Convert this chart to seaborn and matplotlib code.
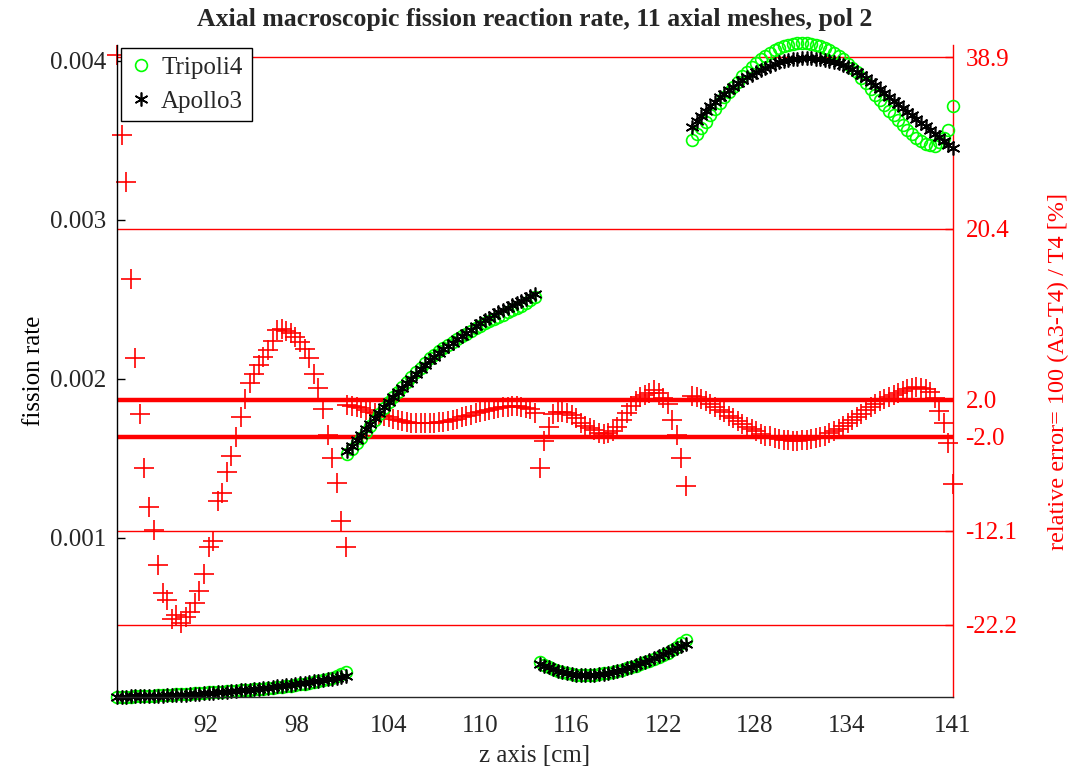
import numpy as np
import pandas as pd
import matplotlib
matplotlib.use("Agg")
import matplotlib.pyplot as plt
import seaborn as sns

# ---------------- data ----------------
z_mesh1 = [86.2, 86.5, 86.8, 87.1, 87.4, 87.7, 88.0, 88.3, 88.6, 88.9,
           89.2, 89.5, 89.8, 90.1, 90.4, 90.7, 91.0, 91.3, 91.6, 91.9,
           92.2, 92.5, 92.8, 93.1, 93.4, 93.7, 94.0, 94.3, 94.6, 94.9,
           95.2, 95.5, 95.8, 96.1, 96.4, 96.7, 97.0, 97.3, 97.6, 97.9,
           98.2, 98.5, 98.8, 99.1, 99.4, 99.7, 100.0, 100.3, 100.6, 100.9,
           101.2]
a3_mesh1 = [2.0e-6, 2.4e-6, 2.9e-6, 3.4e-6, 4.0e-6, 4.7e-6, 5.4e-6, 6.2e-6, 7.1e-6, 8.0e-6,
            9.0e-6, 10.1e-6, 11.3e-6, 12.6e-6, 14.0e-6, 15.5e-6, 17.1e-6, 18.8e-6, 20.6e-6, 22.5e-6,
            24.5e-6, 26.6e-6, 28.8e-6, 31.1e-6, 33.5e-6, 36.0e-6, 38.6e-6, 41.3e-6, 44.1e-6, 47.0e-6,
            50.0e-6, 53.1e-6, 56.3e-6, 59.6e-6, 63.0e-6, 66.5e-6, 70.1e-6, 73.8e-6, 77.6e-6, 81.5e-6,
            85.5e-6, 89.6e-6, 93.8e-6, 98.1e-6, 102.5e-6, 107.0e-6, 111.6e-6, 116.3e-6, 121.5e-6, 127.5e-6,
            134.0e-6]
t4_mesh1 = [1.44e-6, 1.84e-6, 2.31e-6, 2.96e-6, 3.76e-6, 4.68e-6, 5.70e-6, 6.85e-6, 8.07e-6, 9.50e-6,
            11.08e-6, 12.56e-6, 14.41e-6, 15.99e-6, 17.95e-6, 19.72e-6, 21.62e-6, 23.47e-6, 25.31e-6, 27.04e-6,
            28.42e-6, 30.65e-6, 31.61e-6, 33.80e-6, 35.56e-6, 37.54e-6, 39.39e-6, 41.22e-6, 43.19e-6, 45.28e-6,
            47.71e-6, 50.24e-6, 52.81e-6, 55.49e-6, 58.17e-6, 60.73e-6, 63.96e-6, 67.46e-6, 71.06e-6, 74.91e-6,
            79.02e-6, 83.35e-6, 88.08e-6, 93.61e-6, 99.23e-6, 105.94e-6, 113.65e-6, 121.53e-6, 130.65e-6, 143.26e-6,
            155.63e-6]
err_mesh1 = [39.1, 30.5, 25.5, 15.0, 6.5, 0.5, -5.3, -9.5, -12.0, -15.8,
             -18.8, -19.6, -21.6, -21.2, -22.0, -21.4, -20.9, -19.9, -18.6, -16.8,
             -13.8, -13.2, -8.9, -8.0, -5.8, -4.1, -2.0, 0.2, 2.1, 3.8,
             4.8, 5.7, 6.6, 7.4, 8.3, 9.5, 9.6, 9.4, 9.2, 8.8,
             8.2, 7.5, 6.5, 4.8, 3.3, 1.0, -1.8, -4.3, -7.0, -11.0,
             -13.9]

z_mesh2 = [101.3, 101.6, 101.9, 102.2, 102.5, 102.8, 103.1, 103.4, 103.7, 104.0,
           104.3, 104.6, 104.9, 105.2, 105.5, 105.8, 106.1, 106.4, 106.7, 107.0,
           107.3, 107.6, 107.9, 108.2, 108.5, 108.8, 109.1, 109.4, 109.7, 110.0,
           110.3, 110.6, 110.9, 111.2, 111.5, 111.8, 112.1, 112.4, 112.7, 113.0,
           113.3, 113.6]
a3_mesh2 = [1.546e-3, 1.580e-3, 1.614e-3, 1.648e-3, 1.683e-3, 1.718e-3, 1.753e-3, 1.787e-3, 1.821e-3, 1.855e-3,
            1.887e-3, 1.916e-3, 1.945e-3, 1.973e-3, 2.002e-3, 2.031e-3, 2.060e-3, 2.089e-3, 2.118e-3, 2.141e-3,
            2.164e-3, 2.187e-3, 2.208e-3, 2.229e-3, 2.250e-3, 2.270e-3, 2.290e-3, 2.310e-3, 2.330e-3, 2.350e-3,
            2.368e-3, 2.386e-3, 2.403e-3, 2.418e-3, 2.433e-3, 2.448e-3, 2.462e-3, 2.476e-3, 2.490e-3, 2.504e-3,
            2.519e-3, 2.533e-3]
t4_mesh2 = [1.525e-3, 1.560e-3, 1.595e-3, 1.630e-3, 1.668e-3, 1.706e-3, 1.743e-3, 1.780e-3, 1.816e-3, 1.853e-3,
            1.888e-3, 1.919e-3, 1.950e-3, 1.980e-3, 2.011e-3, 2.041e-3, 2.071e-3, 2.100e-3, 2.129e-3, 2.151e-3,
            2.173e-3, 2.195e-3, 2.214e-3, 2.233e-3, 2.251e-3, 2.268e-3, 2.284e-3, 2.301e-3, 2.318e-3, 2.334e-3,
            2.349e-3, 2.364e-3, 2.378e-3, 2.391e-3, 2.404e-3, 2.418e-3, 2.431e-3, 2.445e-3, 2.459e-3, 2.476e-3,
            2.494e-3, 2.518e-3]
err_mesh2 = [1.4, 1.3, 1.2, 1.1, 0.9, 0.7, 0.55, 0.4, 0.25, 0.1,
             -0.05, -0.15, -0.25, -0.35, -0.45, -0.5, -0.52, -0.52, -0.5, -0.47,
             -0.42, -0.36, -0.28, -0.18, -0.05, 0.1, 0.25, 0.4, 0.55, 0.7,
             0.82, 0.94, 1.04, 1.12, 1.2, 1.25, 1.28, 1.28, 1.25, 1.15,
             1.0, 0.6]

z_mesh3 = [113.9, 114.2, 114.5, 114.8, 115.1, 115.4, 115.7, 116.0, 116.3, 116.6,
           116.9, 117.2, 117.5, 117.8, 118.1, 118.4, 118.7, 119.0, 119.3, 119.6,
           119.9, 120.2, 120.5, 120.8, 121.1, 121.4, 121.7, 122.0, 122.3, 122.6,
           122.9, 123.2, 123.5]
a3_mesh3 = [0.210e-3, 0.198e-3, 0.186e-3, 0.175e-3, 0.165e-3, 0.157e-3, 0.150e-3, 0.145e-3, 0.141e-3, 0.139e-3,
            0.138e-3, 0.138e-3, 0.139e-3, 0.142e-3, 0.146e-3, 0.151e-3, 0.157e-3, 0.164e-3, 0.172e-3, 0.181e-3,
            0.191e-3, 0.201e-3, 0.212e-3, 0.223e-3, 0.235e-3, 0.247e-3, 0.259e-3, 0.271e-3, 0.283e-3, 0.296e-3,
            0.309e-3, 0.322e-3, 0.335e-3]
t4_mesh3 = [0.2218e-3, 0.2029e-3, 0.1877e-3, 0.1741e-3, 0.1639e-3, 0.1559e-3, 0.1492e-3, 0.1445e-3, 0.1410e-3, 0.1397e-3,
            0.1391e-3, 0.1395e-3, 0.1408e-3, 0.1442e-3, 0.1484e-3, 0.1535e-3, 0.1591e-3, 0.1655e-3, 0.1723e-3, 0.1800e-3,
            0.1885e-3, 0.1973e-3, 0.2071e-3, 0.2176e-3, 0.2288e-3, 0.2397e-3, 0.2522e-3, 0.2652e-3, 0.2788e-3, 0.2966e-3,
            0.3147e-3, 0.3365e-3, 0.3614e-3]
err_mesh3 = [-5.3, -2.4, -0.9, 0.5, 0.7, 0.7, 0.55, 0.35, 0.0, -0.5,
             -0.8, -1.05, -1.3, -1.55, -1.65, -1.62, -1.35, -0.9, -0.2, 0.55,
             1.3, 1.9, 2.35, 2.5, 2.7, 3.05, 2.7, 2.2, 1.5, -0.2,
             -1.8, -4.3, -7.3]

z_mesh4 = [123.9, 124.2, 124.5, 124.8, 125.1, 125.4, 125.7, 126.0, 126.3, 126.6,
           126.9, 127.2, 127.5, 127.8, 128.1, 128.4, 128.7, 129.0, 129.3, 129.6,
           129.9, 130.2, 130.5, 130.8, 131.1, 131.4, 131.7, 132.0, 132.3, 132.6,
           132.9, 133.2, 133.5, 133.8, 134.1, 134.4, 134.7, 135.0, 135.3, 135.6,
           135.9, 136.2, 136.5, 136.8, 137.1, 137.4, 137.7, 138.0, 138.3, 138.6,
           138.9, 139.2, 139.5, 139.8, 140.1, 140.4, 140.7, 141.0]
a3_mesh4 = [3.585e-3, 3.620e-3, 3.652e-3, 3.685e-3, 3.716e-3, 3.744e-3, 3.770e-3, 3.795e-3, 3.818e-3, 3.839e-3,
            3.859e-3, 3.879e-3, 3.897e-3, 3.914e-3, 3.930e-3, 3.945e-3, 3.958e-3, 3.970e-3, 3.981e-3, 3.990e-3,
            3.998e-3, 4.004e-3, 4.009e-3, 4.013e-3, 4.016e-3, 4.017e-3, 4.017e-3, 4.015e-3, 4.012e-3, 4.008e-3,
            4.002e-3, 3.995e-3, 3.986e-3, 3.976e-3, 3.963e-3, 3.949e-3, 3.933e-3, 3.913e-3, 3.892e-3, 3.870e-3,
            3.847e-3, 3.823e-3, 3.798e-3, 3.773e-3, 3.750e-3, 3.727e-3, 3.704e-3, 3.681e-3, 3.658e-3, 3.635e-3,
            3.612e-3, 3.589e-3, 3.566e-3, 3.543e-3, 3.520e-3, 3.497e-3, 3.474e-3, 3.451e-3]
t4_mesh4 = [3.501e-3, 3.540e-3, 3.577e-3, 3.616e-3, 3.657e-3, 3.698e-3, 3.735e-3, 3.771e-3, 3.807e-3, 3.839e-3,
            3.869e-3, 3.904e-3, 3.932e-3, 3.960e-3, 3.986e-3, 4.011e-3, 4.033e-3, 4.049e-3, 4.066e-3, 4.080e-3,
            4.092e-3, 4.101e-3, 4.108e-3, 4.112e-3, 4.114e-3, 4.113e-3, 4.109e-3, 4.102e-3, 4.094e-3, 4.084e-3,
            4.066e-3, 4.050e-3, 4.030e-3, 4.010e-3, 3.981e-3, 3.957e-3, 3.929e-3, 3.895e-3, 3.859e-3, 3.824e-3,
            3.786e-3, 3.754e-3, 3.720e-3, 3.686e-3, 3.657e-3, 3.627e-3, 3.596e-3, 3.567e-3, 3.541e-3, 3.516e-3,
            3.497e-3, 3.479e-3, 3.469e-3, 3.467e-3, 3.492e-3, 3.515e-3, 3.567e-3, 3.715e-3]
err_mesh4 = [2.4, 2.25, 2.1, 1.9, 1.6, 1.25, 0.95, 0.65, 0.3, 0.0,
             -0.25, -0.65, -0.9, -1.15, -1.4, -1.65, -1.85, -1.95, -2.1, -2.2,
             -2.3, -2.37, -2.4, -2.4, -2.38, -2.33, -2.25, -2.12, -2.0, -1.85,
             -1.58, -1.35, -1.1, -0.85, -0.45, -0.2, 0.1, 0.45, 0.85, 1.2,
             1.6, 1.85, 2.1, 2.35, 2.55, 2.75, 3.0, 3.2, 3.3, 3.37,
             3.3, 3.15, 2.8, 2.2, 0.8, -0.5, -2.6, -7.1]

err_levels = [-22.2, -12.1, -2.0, 2.0, 20.4, 38.9]
err_level_labels = ["-22.2", "-12.1", "-2.0", "2.0", "20.4", "38.9"]
x_ticks = [92, 98, 104, 110, 116, 122, 128, 134, 141]
y_ticks = [0.001, 0.002, 0.003, 0.004]
y_tick_labels = ["0.001", "0.002", "0.003", "0.004"]

# ---------------- table ----------------
frames = []
for i, (z, a3, t4, er) in enumerate([(z_mesh1, a3_mesh1, t4_mesh1, err_mesh1),
                                     (z_mesh2, a3_mesh2, t4_mesh2, err_mesh2),
                                     (z_mesh3, a3_mesh3, t4_mesh3, err_mesh3),
                                     (z_mesh4, a3_mesh4, t4_mesh4, err_mesh4)]):
    assert len(z) == len(a3) == len(t4) == len(er), (i, len(z), len(a3), len(t4), len(er))
    frames.append(pd.DataFrame({"z": z, "A3": a3, "T4": t4, "err": er, "mesh": i + 1}))
df = pd.concat(frames, ignore_index=True)

# ---------------- style ----------------
sns.set_theme(style="white")
plt.rcParams["font.family"] = ["Liberation Serif", "DejaVu Serif"]
FS = 18
GREEN = "#00ff00"
RED = "#ff0000"
DARK = "#262626"

W, H = 1078, 773
fig = plt.figure(figsize=(W / 100, H / 100), dpi=100)
fig.patch.set_facecolor("white")
L, R, T, B = 117, 953, 45, 697
ax = fig.add_axes([L / W, 1 - B / H, (R - L) / W, (B - T) / H])
ax2 = ax.twinx()
ax.set_zorder(ax2.get_zorder() + 1)
ax.patch.set_visible(False)
ax2.patch.set_facecolor("white")

# ---- error axis (right) ----
for lev in err_levels:
    lw = 3.2 if abs(lev) == 2.0 else 1.0
    ax2.axhline(lev, color=RED, lw=lw, zorder=1)
sns.lineplot(data=df, x="z", y="err", units="mesh", estimator=None, sort=False,
             ax=ax2, linestyle="", marker="+", markersize=14,
             markeredgewidth=1.2, color=RED, markeredgecolor=RED, legend=False)
for ln in ax2.get_lines():
    if ln.get_marker() == "+":
        ln.set_clip_on(False)
        ln.set_zorder(3)

# ---- fission rate (left) ----
n0 = len(ax.get_lines())
sns.lineplot(data=df, x="z", y="T4", units="mesh", estimator=None, sort=False,
             ax=ax, linestyle="", marker="o", markersize=8.5,
             markerfacecolor="none", markeredgecolor=GREEN, markeredgewidth=1.2,
             color=GREEN, legend=False)
n1 = len(ax.get_lines())
sns.lineplot(data=df, x="z", y="A3", units="mesh", estimator=None, sort=False,
             ax=ax, linestyle="", marker=(6, 2, 0), markersize=10,
             markeredgecolor="black", markeredgewidth=1.2,
             color="black", legend=False)
lines = ax.get_lines()
for ln in lines:
    ln.set_clip_on(False)
h_t4 = lines[n0]
h_a3 = lines[n1]

# ---- axes limits / ticks ----
ax.set_xlim(86.2, 141)
ax.set_ylim(0, 0.0041)
ax2.set_ylim(-30.0, 40.2)

ax.set_xticks(x_ticks)
ax.set_xticklabels([str(t) for t in x_ticks])
ax.set_yticks(y_ticks)
ax.set_yticklabels(y_tick_labels)
ax2.set_yticks(err_levels)
ax2.set_yticklabels(err_level_labels)

ax.tick_params(axis="x", direction="in", length=7, width=1, colors=DARK,
               labelsize=FS, pad=13)
ax.tick_params(axis="y", direction="in", length=6, width=1, colors="black",
               labelcolor=DARK, labelsize=FS, pad=8)
ax2.tick_params(axis="y", direction="in", length=6, width=1, colors=RED,
                labelsize=FS, pad=9)

for s in ["top", "right"]:
    ax.spines[s].set_visible(False)
for s in ["top", "left", "bottom"]:
    ax2.spines[s].set_visible(False)
ax.spines["left"].set_color("black")
ax.spines["bottom"].set_color(DARK)
ax2.spines["right"].set_color(RED)
for sp in list(ax.spines.values()) + list(ax2.spines.values()):
    sp.set_linewidth(1.0)

ax.set_xlabel("z axis [cm]", fontsize=FS, color=DARK, labelpad=6)
ax.set_ylabel("fission rate", fontsize=FS, color="black", labelpad=3)
ax2.set_ylabel("relative error= 100 (A3-T4) / T4 [%]", fontsize=17.5, color=RED,
               labelpad=22)
ax.set_title("Axial macroscopic fission reaction rate, 11 axial meshes, pol 2",
             fontsize=18.5, fontweight="bold", pad=14)

leg = ax.legend([h_t4, h_a3], ["Tripoli4", "Apollo3"], loc="upper left",
                bbox_to_anchor=(0.005, 0.996), borderaxespad=0, fontsize=FS,
                frameon=True, fancybox=False, framealpha=1, edgecolor="black",
                handlelength=0.9, handletextpad=0.35, labelspacing=0.45,
                borderpad=0.35)
leg.get_frame().set_linewidth(1.0)
leg.set_zorder(10)

fig.savefig("out.png", dpi=100, facecolor="white")
